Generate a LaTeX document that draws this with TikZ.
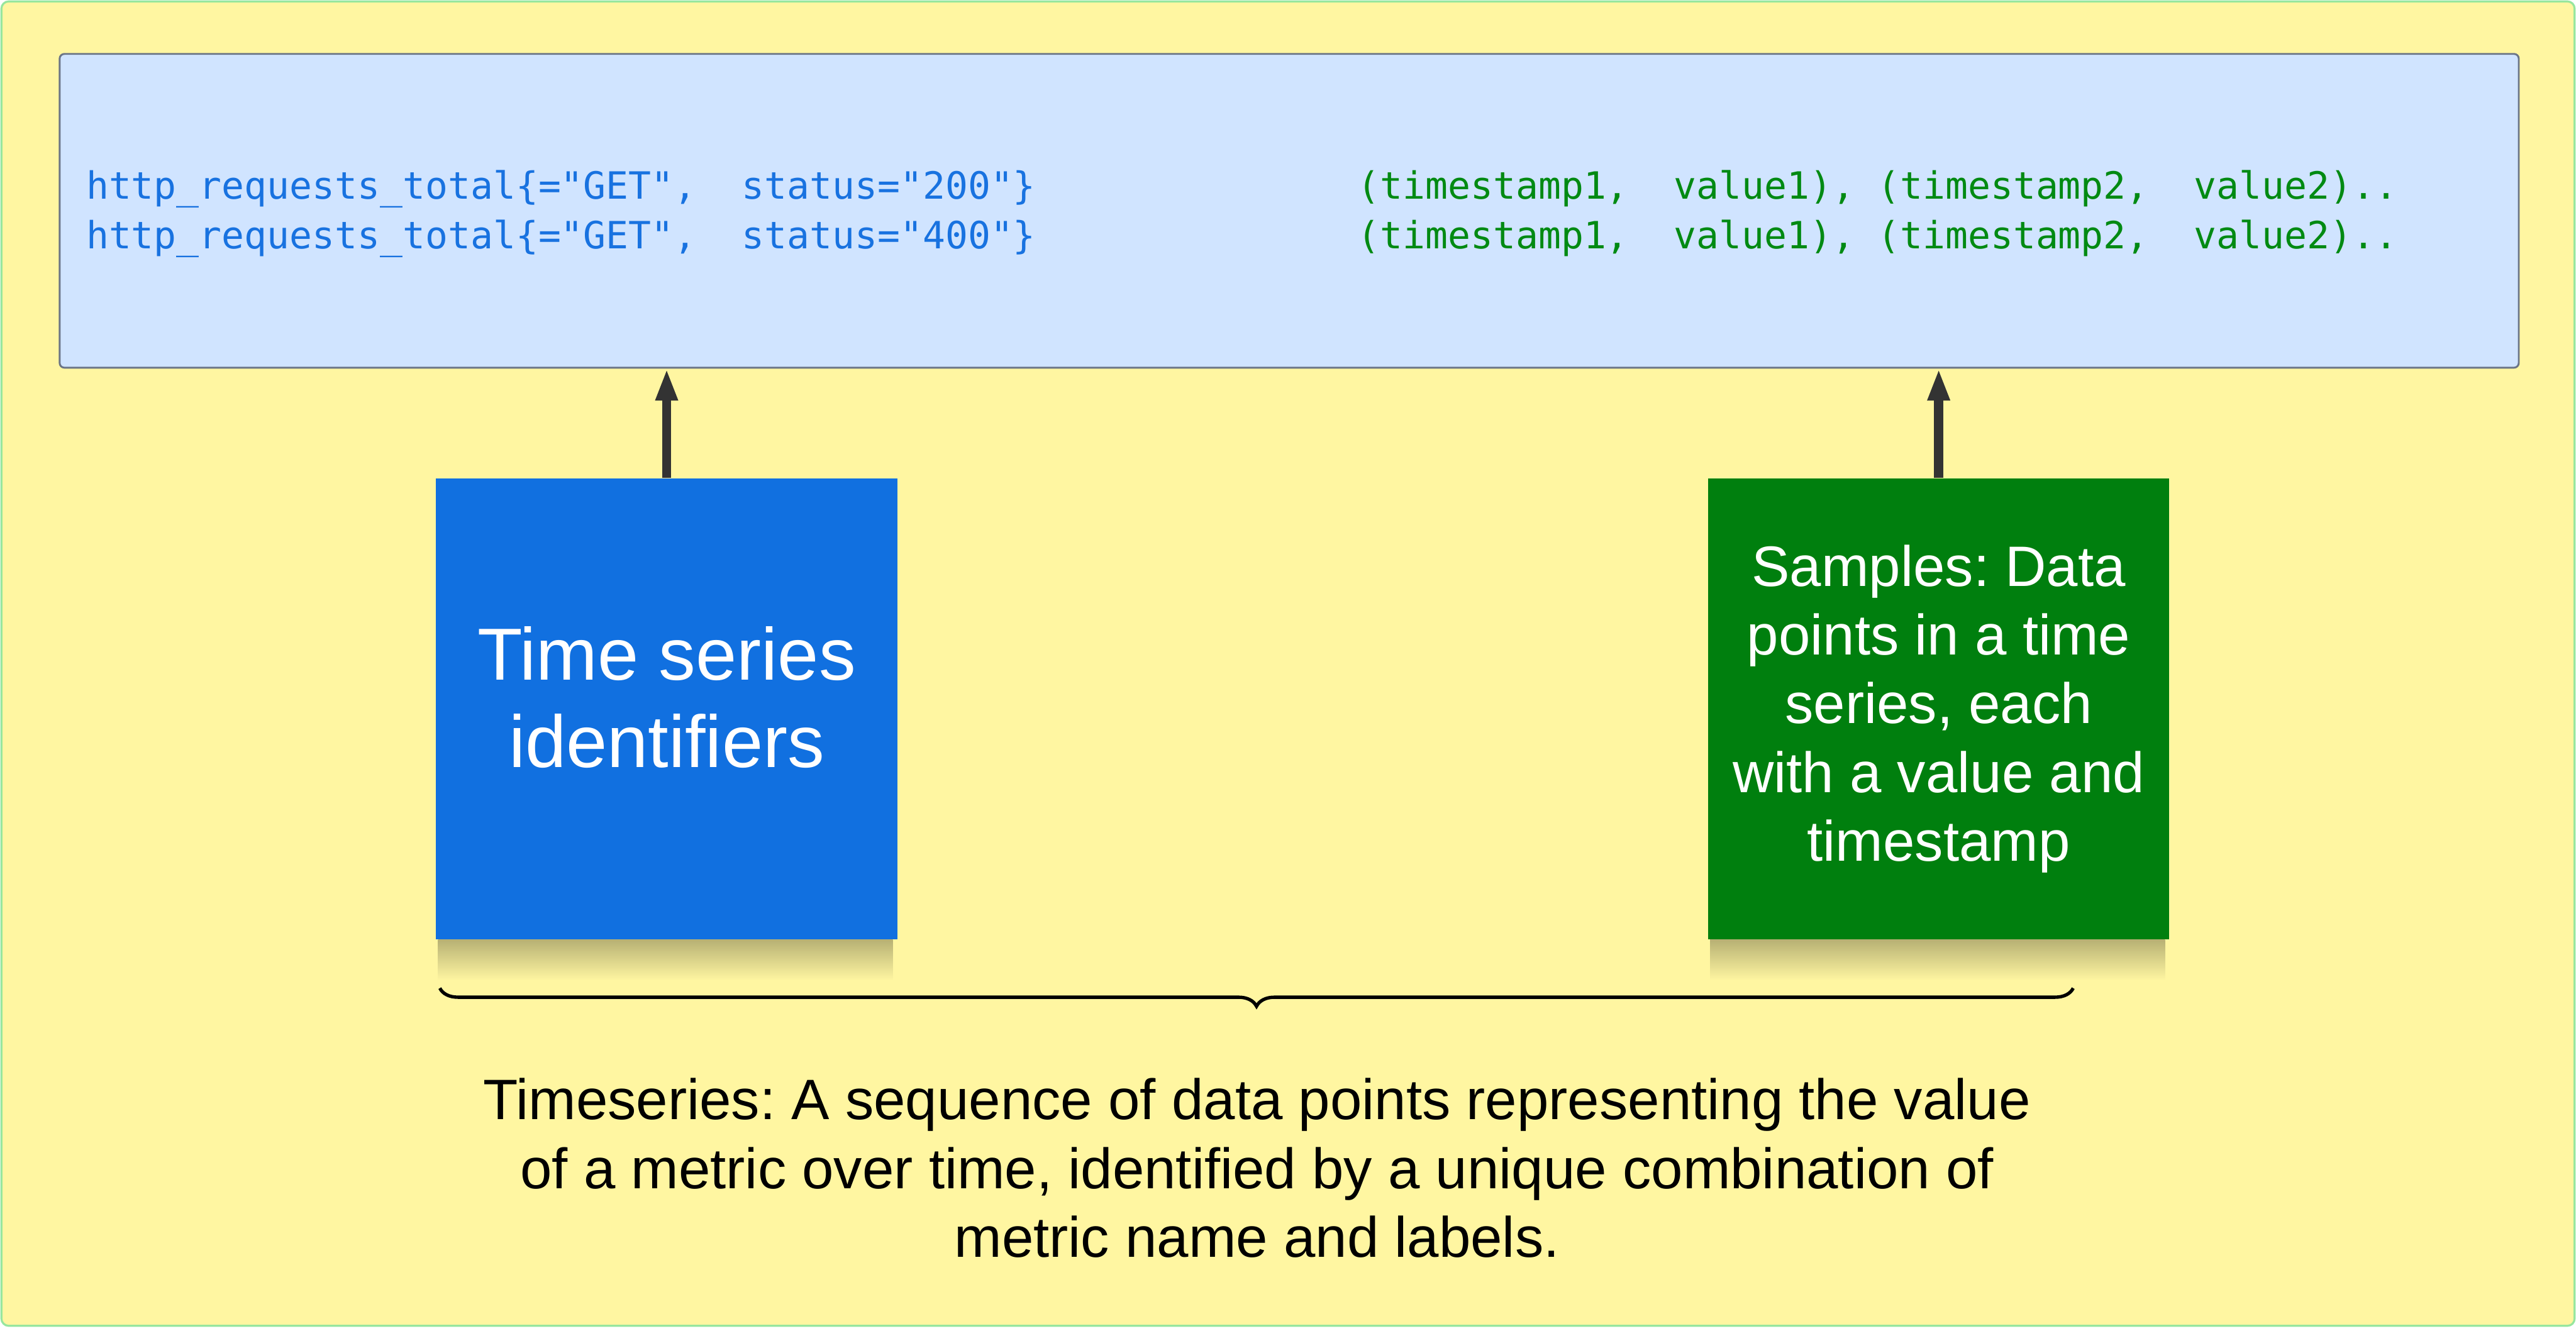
\documentclass[tikz,border=0pt]{standalone}
\usepackage{fontspec}
\setmainfont{Liberation Sans}
\newfontfamily\codefont{DejaVu Sans Mono}
\frenchspacing
\usetikzlibrary{arrows.meta,decorations.pathreplacing}

\definecolor{bgyellow}{HTML}{FFF6A1}
\definecolor{framegreen}{HTML}{97E69E}
\definecolor{codefill}{HTML}{D0E4FF}
\definecolor{codeborder}{HTML}{6B7587}
\definecolor{idblue}{HTML}{1170E0}
\definecolor{samplegreen}{HTML}{007F0E}
\definecolor{codeblue}{HTML}{1872E0}
\definecolor{codegreen}{HTML}{008A12}
\definecolor{arrowgray}{HTML}{333333}

\tikzset{
  codeline/.style={anchor=base west,inner sep=0pt,font=\codefont\fontsize{22.4}{29.6}\selectfont},
  note/.style={minimum width=9.67cm,minimum height=9.67cm,inner sep=0pt,text=white,align=center},
  noteshadow/.style={top color=bgyellow!72!black,middle color=bgyellow!90!black,bottom color=bgyellow},
  uparrow/.style={arrowgray,line width=5.4pt,-{Triangle[length=0.67cm,width=0.43cm]}}
}

\begin{document}
\begin{tikzpicture}
    \useasboundingbox (0,0) rectangle (54,-27.9);
    \draw[framegreen,line width=1.2pt,fill=bgyellow,rounded corners=0.15cm] (0.03,-0.03) rectangle (53.97,-27.8);

    % code box with the series
    \node[draw=codeborder,line width=1.1pt,fill=codefill,rounded corners=0.1cm,
          minimum width=51.55cm,minimum height=6.58cm,inner sep=0pt] (codebox) at (27.025,-4.42) {};
    \foreach \st/\y in {200/4.17,400/5.21} {
      \node[codeline,text=codeblue] (ser\st) at (1.80,-\y) {http\_requests\_total\{="GET",~~status="\st"\}};
      \node[codeline,text=codegreen] (smp\st) at (28.45,-\y) {(timestamp1,~~value1), (timestamp2,~~value2)..};
    }

    % the two notes
    \node[note,fill=idblue,label={[text=white,align=center,yshift=0.24cm,font=\fontsize{44}{52}\selectfont]center:{Time series\\identifiers}}]
      (idbox) at (13.975,-14.865) {};
    \node[note,fill=samplegreen,font=\fontsize{34}{41}\selectfont] (samplebox) at (40.64,-14.865)
      {Samples: Data\\points in a time\\series, each\\with a value and\\timestamp};
    \shade[noteshadow] ([xshift=0.05cm]idbox.south west) rectangle ([xshift=-0.1cm,yshift=-0.85cm]idbox.south east);
    \shade[noteshadow] ([xshift=0.05cm]samplebox.south west) rectangle ([xshift=-0.1cm,yshift=-0.85cm]samplebox.south east);

    \draw[uparrow] (idbox.north) -- (idbox |- codebox.south);
    \draw[uparrow] (samplebox.north) -- (samplebox |- codebox.south);

    % brace and caption
    \coordinate (braceL) at (9.22,-20.72);
    \coordinate (braceR) at (43.46,-20.72);
    \draw[line width=2pt,decorate,decoration={brace,amplitude=0.38cm}] (braceR) -- (braceL);
    \node[align=center,font=\fontsize{34}{41}\selectfont] (caption) at (26.35,-24.49)
      {Timeseries: A sequence of data points representing the value\\
       of a metric over time, identified by a unique combination of\\
       metric name and labels.};
\end{tikzpicture}
\end{document}
